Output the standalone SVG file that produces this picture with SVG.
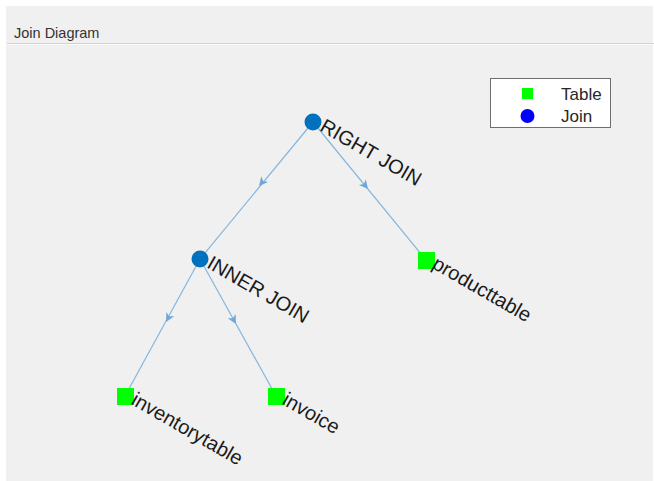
<svg xmlns="http://www.w3.org/2000/svg" width="654" height="481" viewBox="0 0 654 481">
<defs>
<style>
.edge{stroke:#84b6de;stroke-width:1.2;fill:none}
.arrow{fill:#6fa8d8}
.join{fill:#0072bd}
.table{fill:#00ff00}
.lbl{font-family:"Liberation Sans",Arial,sans-serif;font-size:20px;fill:#1a1a1a}
.leg{font-family:"Liberation Sans",Arial,sans-serif;font-size:17px;fill:#262626}
</style>
<path id="ah" d="M0,0 L-9,-4.5 L-6.5,0 L-9,4.5 Z"/>
</defs>
<rect x="0" y="0" width="654" height="481" fill="#ffffff"/>
<rect x="6" y="6" width="647" height="475" fill="#f0f0f0"/>
<text x="14" y="38" font-family="Liberation Sans,Arial,sans-serif" font-size="14.5" fill="#333333">Join Diagram</text>
<line x1="7" y1="43.5" x2="654" y2="43.5" stroke="#d2d2d2" stroke-width="1"/>
<line x1="7" y1="44.5" x2="654" y2="44.5" stroke="#fafafa" stroke-width="1"/>

<g id="connectors">
<line class="edge" x1="313" y1="122" x2="200" y2="259"/>
<line class="edge" x1="313" y1="122" x2="426" y2="260"/>
<line class="edge" x1="200" y1="259" x2="125" y2="396"/>
<line class="edge" x1="200" y1="259" x2="276" y2="396"/>
<use href="#ah" class="arrow" transform="translate(259,186) rotate(129.5)"/>
<use href="#ah" class="arrow" transform="translate(368,189) rotate(50.7)"/>
<use href="#ah" class="arrow" transform="translate(166,322) rotate(118.7)"/>
<use href="#ah" class="arrow" transform="translate(236,324) rotate(61)"/>
</g>

<g id="right-join">
<circle class="join" cx="313" cy="122" r="8.5"/>
<text class="lbl" transform="translate(313,122) rotate(30)" x="9" y="4">RIGHT JOIN</text>
</g>
<g id="inner-join">
<circle class="join" cx="200" cy="259" r="8.5"/>
<text class="lbl" transform="translate(200,259) rotate(30)" x="9" y="4">INNER JOIN</text>
</g>
<g id="producttable">
<rect class="table" x="418" y="252" width="17" height="17"/>
<text class="lbl" transform="translate(426,260) rotate(30)" x="8" y="4">producttable</text>
</g>
<g id="inventorytable">
<rect class="table" x="117" y="388" width="17" height="17"/>
<text class="lbl" transform="translate(125,396) rotate(30)" x="8" y="4">inventorytable</text>
</g>
<g id="invoice">
<rect class="table" x="268" y="388" width="17" height="17"/>
<text class="lbl" transform="translate(276,396) rotate(30)" x="8" y="4">invoice</text>
</g>

<g id="legend">
<rect x="490.5" y="78.5" width="120" height="49" fill="#ffffff" stroke="#6e6e6e" stroke-width="1"/>
<rect class="table" x="522" y="88" width="11" height="11"/>
<circle cx="527.5" cy="116" r="7" fill="#0000ff"/>
<text class="leg" x="561" y="100">Table</text>
<text class="leg" x="561" y="122">Join</text>
</g>
</svg>
